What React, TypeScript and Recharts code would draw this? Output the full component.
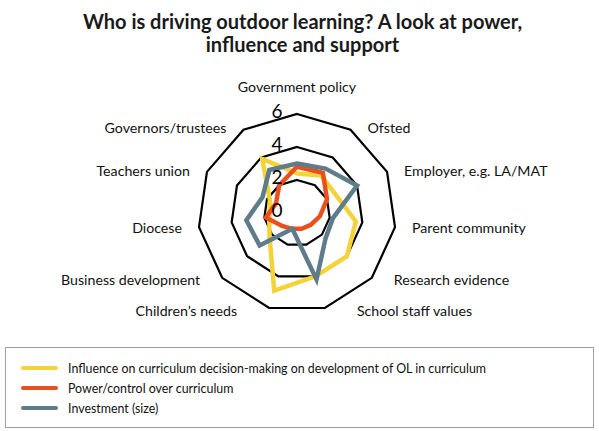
import React from 'react';
import { RadarChart, Radar, PolarGrid, PolarAngleAxis, PolarRadiusAxis, Legend } from 'recharts';

const categories = [
  'Government policy',
  'Ofsted',
  'Employer, e.g. LA/MAT',
  'Parent community',
  'Research evidence',
  'School staff values',
  'Children’s needs',
  'Business development',
  'Diocese',
  'Teachers union',
  'Governors/trustees',
];
const influence = [2.4, 2.7, 2.6, 3.6, 4.0, 4.0, 4.9, 2.2, 1.7, 1.8, 3.9];
const power = [2.8, 2.9, 2.0, 1.4, 1.1, 1.0, 1.0, 1.2, 1.9, 1.4, 2.0];
const investment = [3.0, 3.2, 4.0, 2.2, 2.3, 4.2, 1.0, 3.0, 3.1, 2.3, 3.1];
const radiusTicks = [0, 2, 4, 6];
const seriesKeys = ['influence', 'power', 'investment'];
const seriesNames = [
  'Influence on curriculum decision-making on development of OL in curriculum',
  'Power/control over curriculum',
  'Investment (size)',
];
const seriesColors = ['#F4D23A', '#E9501D', '#5E7C89'];
const titleLines = ['Who is driving outdoor learning? A look at power,', 'influence and support'];

const data = categories.map((category, i) => ({
  category,
  influence: influence[i],
  power: power[i],
  investment: investment[i],
}));

const CX = 297;
const CY = 213;
const R = 99;
const FONT = 'Lato, "Open Sans", sans-serif';

const AngleTick = (props: any) => {
  const { payload } = props;
  let idx = typeof props.index === 'number' ? props.index : categories.indexOf(payload?.value);
  if (idx < 0) idx = 0;
  const a = ((90 - (idx * 360) / categories.length) * Math.PI) / 180;
  const right = Math.cos(a);
  const up = Math.sin(a);
  const vx = CX + R * right;
  const vy = CY - R * up;
  let x = vx;
  let y = vy;
  let anchor: 'start' | 'end' | 'middle' = 'middle';
  if (Math.abs(right) < 0.01) {
    y = vy - 28;
  } else {
    const gap = 17 + (15 * Math.max(0, -up - 0.5)) / 0.46;
    x = vx + Math.sign(right) * gap;
    y = vy - 3 * up;
    anchor = right > 0 ? 'start' : 'end';
  }
  return (
    <text
      x={x}
      y={y}
      textAnchor={anchor}
      dominantBaseline="central"
      fontSize={14.2}
      fontFamily={FONT}
      fill="#111"
    >
      {payload.value}
    </text>
  );
};

const RadiusTick = (props: any) => {
  const { x, y, payload } = props;
  return (
    <text
      x={x - 20}
      y={y - 4}
      textAnchor="middle"
      dominantBaseline="central"
      fontSize={19}
      fontFamily={FONT}
      fill="#000"
      stroke="none"
    >
      {payload.value}
    </text>
  );
};

const renderLegend = () => (
  <div
    style={{
      border: '1px solid #a0a0a0',
      width: 589,
      height: 81,
      boxSizing: 'border-box',
      padding: '10px 0 0 15px',
      fontFamily: FONT,
      fontSize: 12.4,
      color: '#111',
      background: '#fff',
    }}
  >
    {seriesNames.map((n, i) => (
      <div key={n} style={{ display: 'flex', alignItems: 'center', height: 20 }}>
        <span
          style={{
            display: 'inline-block',
            width: 37,
            height: 4,
            borderRadius: 2,
            background: seriesColors[i],
            marginRight: 10,
          }}
        />
        <span>{n}</span>
      </div>
    ))}
  </div>
);

export default function App() {
  return (
    <div
      style={{
        position: 'absolute',
        left: 0,
        top: 0,
        width: 599,
        height: 431,
        background: '#fff',
        fontFamily: FONT,
        overflow: 'hidden',
      }}
    >
      <div
        style={{
          position: 'absolute',
          left: 3,
          top: 10,
          width: 599,
          textAlign: 'center',
          fontSize: 20,
          fontWeight: 700,
          lineHeight: '23px',
          color: '#1a1a1a',
        }}
      >
        {titleLines[0]}
        <br />
        {titleLines[1]}
      </div>
      <div style={{ position: 'absolute', left: 0, top: 0 }}>
        <RadarChart
          width={599}
          height={431}
          cx={CX}
          cy={CY}
          outerRadius={R}
          data={data}
          margin={{ top: 0, right: 0, bottom: 0, left: 0 }}
        >
          <PolarGrid gridType="polygon" radialLines={false} stroke="#000" strokeWidth={2.2} />
          <PolarAngleAxis dataKey="category" axisLine={false} tickLine={false} tick={<AngleTick />} />
          {seriesKeys.map((k, i) => (
            <Radar
              key={k}
              name={seriesNames[i]}
              dataKey={k}
              stroke={seriesColors[i]}
              strokeWidth={4.5}
              fill="none"
              fillOpacity={0}
              dot={false}
              isAnimationActive={false}
            />
          ))}
          <PolarRadiusAxis
            angle={90}
            domain={[0, 6]}
            ticks={radiusTicks as any}
            tickCount={4}
            axisLine={false}
            tick={<RadiusTick />}
          />
          <Legend
            content={renderLegend}
            wrapperStyle={{ position: 'absolute', left: 5, top: 347, width: 589, height: 81 }}
          />
        </RadarChart>
      </div>
    </div>
  );
}
